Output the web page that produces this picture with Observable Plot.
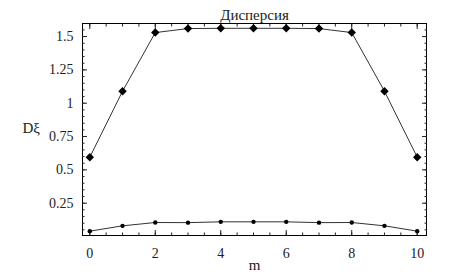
<!DOCTYPE html>
<html><head><meta charset="utf-8">
<script src="https://cdn.jsdelivr.net/npm/d3@7"></script>
<script src="https://cdn.jsdelivr.net/npm/@observablehq/plot@0.6"></script>
<style>body{margin:0;background:#fff} svg text{font-family:"Liberation Serif";}</style>
</head><body><div id="chart"></div>
<script>
const titleText = "Дисперсия";
const xLabel = "m";
const yLabel = "Dξ";
const m = [0,1,2,3,4,5,6,7,8,9,10];
const upper = [0.595,1.09,1.53,1.56,1.562,1.562,1.562,1.56,1.53,1.09,0.595];
const lower = [0.04,0.08,0.105,0.104,0.11,0.11,0.11,0.104,0.105,0.08,0.04];
const xTicks = [0,2,4,6,8,10];
const yTicks = [0.25,0.5,0.75,1,1.25,1.5];

const up = m.map((v,i)=>({m:v, d:upper[i]}));
const lo = m.map((v,i)=>({m:v, d:lower[i]}));
const xMinor = d3.range(0,10.01,0.5);
const yMinor = d3.range(0.05,1.6,0.05);
const font = "Liberation Serif";

const chart = Plot.plot({
  width: 451, height: 279,
  marginLeft: 82, marginRight: 25, marginTop: 23, marginBottom: 44,
  style: {fontFamily: font, fontSize: "14px", color: "#222", background: "#fff"},
  x: {domain: [-0.223, 10.284]},
  y: {domain: [0.0075, 1.598]},
  marks: [
    Plot.frame({stroke: "#000", strokeWidth: 1}),
    Plot.axisX(xMinor, {anchor: "bottom", tickSize: -2.5, text: null, label: null}),
    Plot.axisX(xTicks, {anchor: "bottom", tickSize: -5, text: null, label: null}),
    Plot.axisX(xTicks, {anchor: "bottom", tickSize: 0, tickPadding: 13, fontSize: 14, label: null, fontFamily: font}),
    Plot.axisX(xMinor, {anchor: "top", tickSize: -2.5, text: null, label: null}),
    Plot.axisX(xTicks, {anchor: "top", tickSize: -5, text: null, label: null}),
    Plot.axisY(yMinor, {anchor: "left", tickSize: -2.5, text: null, label: null}),
    Plot.axisY(yTicks, {anchor: "left", tickSize: -5, text: null, label: null}),
    Plot.axisY(yTicks, {anchor: "left", tickSize: 0, tickPadding: 9, fontSize: 14, label: null, fontFamily: font, tickFormat: d => String(d)}),
    Plot.axisY(yMinor, {anchor: "right", tickSize: -2.5, text: null, label: null}),
    Plot.axisY(yTicks, {anchor: "right", tickSize: -5, text: null, label: null}),
    Plot.line(up, {x: "m", y: "d", stroke: "#333", strokeWidth: 1}),
    Plot.line(lo, {x: "m", y: "d", stroke: "#333", strokeWidth: 1}),
    Plot.dot(up, {x: "m", y: "d", symbol: "diamond2", r: 3.8, fill: "#000"}),
    Plot.dot(lo, {x: "m", y: "d", r: 2.2, fill: "#000"}),
    Plot.text([titleText], {frameAnchor: "top", dy: -14, fontSize: 15, fill: "#222", fontFamily: font}),
    Plot.text([xLabel], {frameAnchor: "bottom", dy: 34, fontSize: 15, fill: "#222", fontFamily: font}),
    Plot.text([yLabel], {frameAnchor: "left", dx: -60, dy: -1, fontSize: 15, fill: "#222", textAnchor: "start", fontFamily: font})
  ]
});
chart.querySelectorAll("text").forEach(t => { t.style.fontFamily = font; });
document.getElementById("chart").appendChild(chart);
</script>
</body></html>
